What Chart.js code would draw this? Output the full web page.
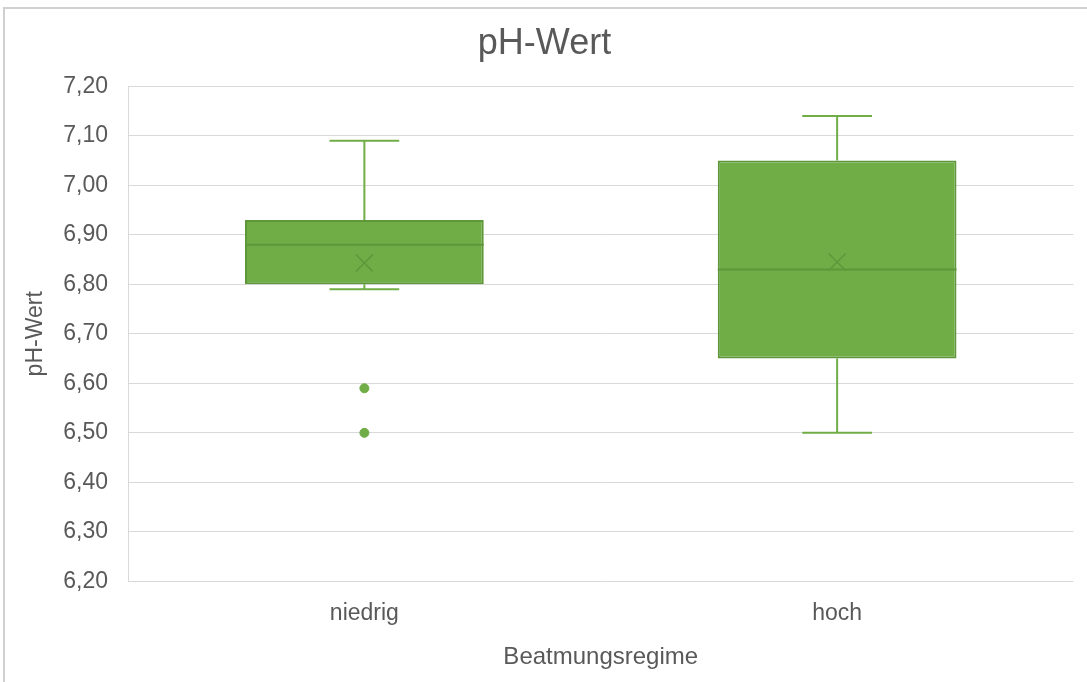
<!DOCTYPE html>
<html>
<head>
<meta charset="utf-8">
<script src="https://cdn.jsdelivr.net/npm/chart.js@4"></script>
<style>
  html, body { margin: 0; padding: 0; background: #fff; }
  canvas { display: block; }
</style>
</head>
<body>
<canvas id="chart" width="1087" height="682"></canvas>
<script>
const categories = ['niedrig', 'hoch'];
const minVals = [6.79, 6.50];
const q1Vals = [6.80, 6.65];
const medianVals = [6.88, 6.83];
const q3Vals = [6.93, 7.05];
const maxVals = [7.09, 7.14];
const meanVals = [6.843, 6.845];
const outlierVals = [[6.59, 6.50], []];
const yTicks = { min: 6.2, max: 7.2, step: 0.1 };

const GREEN = '#70AD47';
const DARK = '#5E973A';
const TEXT = '#595959';
const FONT = "'Liberation Sans', Arial, sans-serif";

const outlierPoints = [];
outlierVals.forEach((list, i) => list.forEach(v => outlierPoints.push({ x: categories[i], y: v })));

// whiskers, caps and median drawn through the scales
const boxExtras = {
    id: 'boxExtras',
    afterDatasetsDraw(chart) {
        const ctx = chart.ctx;
        const y = chart.scales.y;
        const bars = chart.getDatasetMeta(0).data;
        ctx.save();
        bars.forEach((bar, i) => {
            const cx = bar.x;
            const capHalf = bar.width * 0.146;
            const half = bar.width / 2;
            ctx.strokeStyle = GREEN;
            ctx.lineWidth = 2;
            ctx.beginPath();
            ctx.moveTo(cx, y.getPixelForValue(q3Vals[i]));
            ctx.lineTo(cx, y.getPixelForValue(maxVals[i]));
            ctx.moveTo(cx - capHalf, y.getPixelForValue(maxVals[i]));
            ctx.lineTo(cx + capHalf, y.getPixelForValue(maxVals[i]));
            ctx.moveTo(cx, y.getPixelForValue(q1Vals[i]));
            ctx.lineTo(cx, y.getPixelForValue(minVals[i]));
            ctx.moveTo(cx - capHalf, y.getPixelForValue(minVals[i]));
            ctx.lineTo(cx + capHalf, y.getPixelForValue(minVals[i]));
            ctx.stroke();
            ctx.strokeStyle = DARK;
            ctx.lineWidth = 2;
            ctx.beginPath();
            ctx.moveTo(cx - half, y.getPixelForValue(medianVals[i]));
            ctx.lineTo(cx + half, y.getPixelForValue(medianVals[i]));
            ctx.stroke();
        });
        ctx.restore();
    }
};

const frame = {
    id: 'frame',
    beforeDraw(chart) {
        const ctx = chart.ctx;
        ctx.save();
        ctx.fillStyle = '#fff';
        ctx.fillRect(0, 0, chart.width, chart.height);
        ctx.strokeStyle = '#d0d0d0';
        ctx.lineWidth = 2;
        ctx.strokeRect(4, 8, chart.width + 20, chart.height + 20);
        ctx.restore();
    }
};

new Chart(document.getElementById('chart'), {
    type: 'bar',
    data: {
        labels: categories,
        datasets: [
            {
                type: 'bar',
                data: q1Vals.map((v, i) => [v, q3Vals[i]]),
                backgroundColor: GREEN,
                borderColor: DARK,
                borderWidth: 2,
                borderSkipped: false,
                barPercentage: 0.505,
                categoryPercentage: 1,
                order: 2
            },
            {
                type: 'line',
                data: meanVals,
                showLine: false,
                pointStyle: 'crossRot',
                pointRadius: 12,
                pointBorderWidth: 1.5,
                pointBorderColor: DARK,
                pointBackgroundColor: DARK,
                order: 0
            },
            {
                type: 'line',
                data: outlierPoints,
                showLine: false,
                pointStyle: 'circle',
                pointRadius: 4.5,
                pointBorderWidth: 1,
                pointBorderColor: GREEN,
                pointBackgroundColor: GREEN,
                order: 1
            }
        ]
    },
    options: {
        responsive: false,
        animation: false,
        devicePixelRatio: 1,
        layout: { padding: { left: 4, right: 2, top: 8, bottom: 10 } },
        plugins: {
            legend: { display: false },
            tooltip: { enabled: false },
            title: {
                display: true,
                text: 'pH-Wert',
                color: TEXT,
                font: { family: FONT, size: 36, weight: 'normal' },
                padding: { top: 14, bottom: 21 }
            }
        },
        scales: {
            x: {
                grid: { display: false, drawTicks: false },
                border: { display: false },
                ticks: { color: TEXT, font: { family: FONT, size: 23 }, padding: 18 },
                title: {
                    display: true,
                    text: 'Beatmungsregime',
                    color: TEXT,
                    font: { family: FONT, size: 24, lineHeight: 1.0 },
                    padding: { top: 0, bottom: 3 }
                }
            },
            y: {
                min: yTicks.min,
                max: yTicks.max,
                afterFit(scale) { scale.width = 124; },
                grid: { color: '#d9d9d9', lineWidth: 1, drawTicks: false },
                border: { display: true, color: '#d9d9d9', width: 1 },
                ticks: {
                    stepSize: yTicks.step,
                    color: TEXT,
                    font: { family: FONT, size: 23 },
                    padding: 20,
                    callback: v => v.toFixed(2).replace('.', ',')
                },
                title: {
                    display: true,
                    text: 'pH-Wert',
                    color: TEXT,
                    font: { family: FONT, size: 23 },
                    padding: { top: 18, bottom: 10 }
                }
            }
        }
    },
    plugins: [frame, boxExtras]
});
</script>
</body>
</html>
